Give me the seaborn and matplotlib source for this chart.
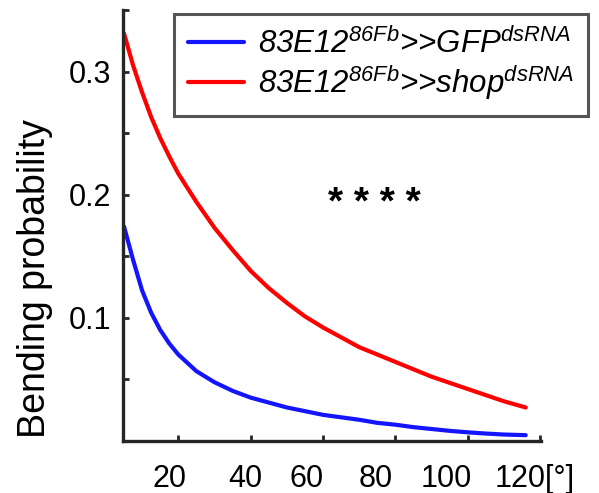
import matplotlib
matplotlib.use('Agg')
import matplotlib.pyplot as plt
import seaborn as sns
import pandas as pd

# bending angle [deg]
angle = [5, 7.5, 10, 12.5, 15, 17.5, 20, 25, 30, 35, 40, 45, 50, 55, 60, 65,
         70, 75, 80, 85, 90, 95, 100, 105, 110, 116]
# 83E12>>GFP dsRNA (control)
gfp = [0.174, 0.147, 0.122, 0.104, 0.090, 0.079, 0.070, 0.0565, 0.0475, 0.0405,
       0.035, 0.031, 0.027, 0.024, 0.021, 0.019, 0.017, 0.0145, 0.013, 0.011,
       0.0095, 0.008, 0.0068, 0.0058, 0.005, 0.0045]
# 83E12>>shop dsRNA
shop = [0.331, 0.305, 0.283, 0.263, 0.246, 0.231, 0.217, 0.194, 0.173, 0.155,
        0.138, 0.124, 0.112, 0.101, 0.092, 0.084, 0.076, 0.070, 0.064, 0.058,
        0.052, 0.047, 0.042, 0.037, 0.032, 0.027]
labels = ['83E12$^{86Fb}$>>GFP$^{dsRNA}$', '83E12$^{86Fb}$>>shop$^{dsRNA}$']
colors = ['#1414ff', '#ff0000']

# tick marks and (slightly shifted) tick labels as in the original figure
xtick_marks = [20, 40, 60, 80, 100, 120]
xlabel_pos = [17.7, 38.4, 55.5, 74.5, 93.9, 118.4]
xtick_labels = ['20', '40', '60', '80', '100', '120[°]']
ytick_marks = [0.05, 0.15, 0.25, 0.35]
ytick_major = [0.1, 0.2, 0.3]
ytick_labels = ['0.1', '0.2', '0.3']

sns.set_style('ticks')
plt.rcParams['font.family'] = ['Liberation Sans', 'DejaVu Sans']
plt.rcParams['mathtext.fontset'] = 'custom'
plt.rcParams['mathtext.rm'] = 'Liberation Sans:italic'
plt.rcParams['mathtext.it'] = 'Liberation Sans:italic'
plt.rcParams['text.color'] = 'black'
plt.rcParams['axes.labelcolor'] = 'black'

df = pd.DataFrame({'angle': angle * 2,
                   'p': gfp + shop,
                   'group': [labels[0]] * len(angle) + [labels[1]] * len(angle)})

fig = plt.figure(figsize=(5.99, 4.93), dpi=100)
ax = fig.add_axes([123.3 / 599, 1 - 440.7 / 493, 418 / 599, 430.7 / 493])
sns.lineplot(data=df, x='angle', y='p', hue='group', hue_order=labels,
             palette=colors, linewidth=3, ax=ax, legend=False)

ax.set_xlim(4.8, 120.3)
ax.set_ylim(0, 0.35)
ax.set_xticks(xlabel_pos, labels=xtick_labels)
ax.set_xticks(xtick_marks, minor=True)
ax.set_yticks(ytick_major, labels=ytick_labels)
ax.set_yticks(ytick_marks, minor=True)
ax.set_xlabel('')
ax.set_ylabel('Bending probability', fontsize=27)
ax.yaxis.set_label_coords(-0.168, 0.377)
ax.tick_params(axis='both', which='both', direction='in', length=4, width=2,
               labelsize=22, color='#262626', labelcolor='black')
ax.tick_params(axis='x', which='major', length=0, pad=17)
ax.tick_params(axis='y', which='major', pad=9)
for s in ['top', 'right']:
    ax.spines[s].set_visible(False)
for s in ['left', 'bottom']:
    ax.spines[s].set_linewidth(2.4)
    ax.spines[s].set_color('#262626')

ax.text(74.1, 0.184, '* * * *', fontsize=28, fontweight='bold',
        ha='center', va='baseline')

handles = [plt.Line2D([], [], color=c, linewidth=3) for c in colors]
leg = fig.legend(handles, labels, loc='upper left',
                 bbox_to_anchor=(174 / 599, 1 - 13.5 / 493), borderaxespad=0,
                 prop={'style': 'italic', 'size': 22.5},
                 handlelength=1.8, handletextpad=0.44, labelspacing=0.12,
                 fancybox=False, framealpha=1, borderpad=0.45)
leg.get_frame().set_edgecolor('#555555')
leg.get_frame().set_linewidth(2.2)

fig.savefig('out.png', dpi=100)
